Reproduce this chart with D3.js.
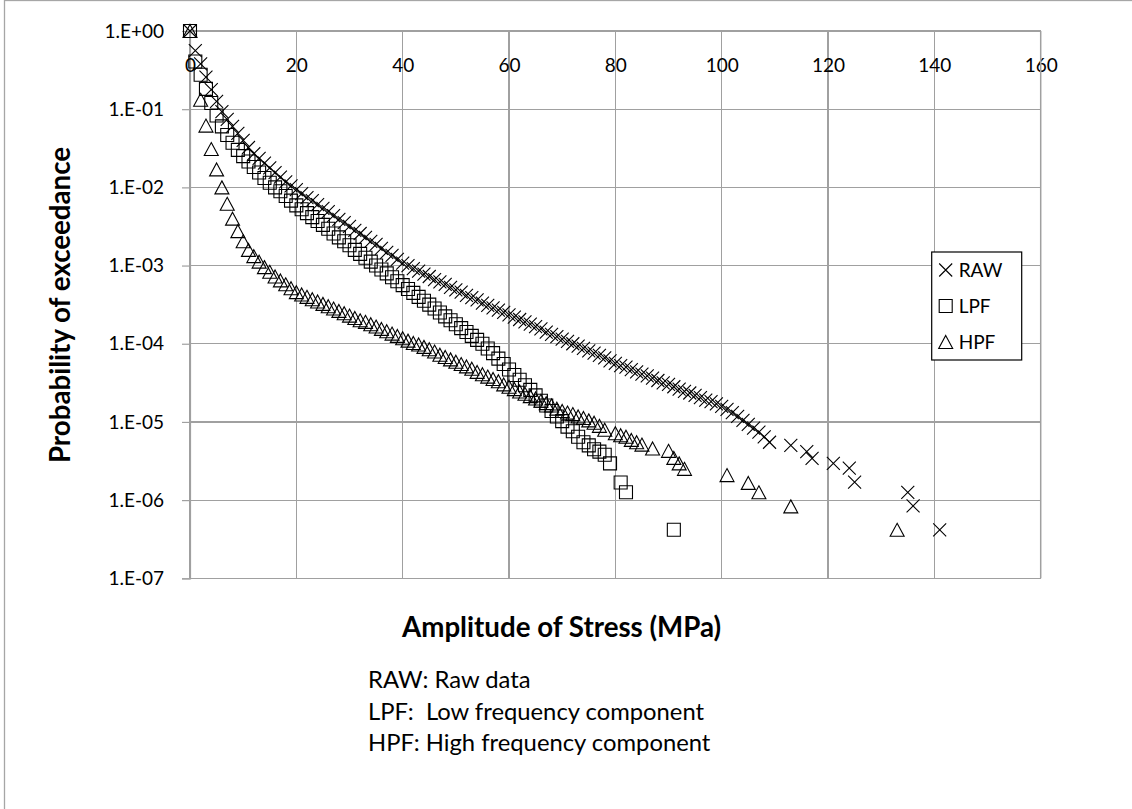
<!DOCTYPE html>
<html>
<head>
<meta charset="utf-8">
<script src="https://cdn.jsdelivr.net/npm/d3@7"></script>
<style>
  html, body { margin: 0; padding: 0; background: #fff; }
  svg { display: block; }
  text { font-family: Lato, "Open Sans", sans-serif; fill: #000; }
</style>
</head>
<body>
<svg id="chart" width="1132" height="809"></svg>
<script>
// ---- Data (probabilities stored as log10 values of the log axis) ----
const xTickValues = [0, 20, 40, 60, 80, 100, 120, 140, 160];
const yTickValues = [1, 1e-1, 1e-2, 1e-3, 1e-4, 1e-5, 1e-6, 1e-7];
const yTickLabels = ["1.E+00", "1.E-01", "1.E-02", "1.E-03", "1.E-04", "1.E-05", "1.E-06", "1.E-07"];
const seriesNames = ["RAW", "LPF", "HPF"];
const footnotes = ["RAW: Raw data", "LPF:  Low frequency component", "HPF: High frequency component"];

const rawX = [0,1,2,3,4,5,6,7,8,9,10,11,12,13,14,15,16,17,18,19,20,
  21,22,23,24,25,26,27,28,29,30,31,32,33,34,35,36,37,38,39,40,
  41,42,43,44,45,46,47,48,49,50,51,52,53,54,55,56,57,58,59,60,
  61,62,63,64,65,66,67,68,69,70,71,72,73,74,75,76,77,78,79,80,
  81,82,83,84,85,86,87,88,89,90,91,92,93,94,95,96,97,98,99,100,
  101,102,103,104,105,106,107,108,109,
  113,116,117,121,124,125,135,136,141];
const rawLogP = [0,-0.25,-0.42,-0.59,-0.75,-0.90,-1.03,-1.13,-1.22,-1.31,-1.40,-1.49,-1.57,-1.63,-1.69,-1.75,-1.81,-1.87,-1.93,-1.98,-2.03,
  -2.08,-2.13,-2.17,-2.22,-2.27,-2.31,-2.36,-2.41,-2.45,-2.50,-2.55,-2.59,-2.64,-2.69,-2.73,-2.78,-2.83,-2.87,-2.92,-2.97,
  -3.00,-3.04,-3.07,-3.11,-3.14,-3.18,-3.21,-3.24,-3.28,-3.31,-3.34,-3.38,-3.41,-3.44,-3.48,-3.51,-3.54,-3.57,-3.60,-3.63,
  -3.66,-3.69,-3.72,-3.75,-3.78,-3.81,-3.85,-3.88,-3.91,-3.94,-3.97,-4.00,-4.03,-4.06,-4.09,-4.12,-4.15,-4.18,-4.22,-4.25,
  -4.28,-4.30,-4.33,-4.36,-4.39,-4.41,-4.44,-4.47,-4.50,-4.52,-4.55,-4.58,-4.61,-4.63,-4.66,-4.69,-4.72,-4.74,-4.77,-4.80,
  -4.84,-4.88,-4.93,-4.98,-5.03,-5.08,-5.13,-5.19,-5.26,
  -5.30,-5.38,-5.465,-5.53,-5.59,-5.77,-5.90,-6.075,-6.38];

const lpfX = [0,1,2,3,4,5,6,7,8,9,10,11,12,13,14,15,16,17,18,19,20,
  21,22,23,24,25,26,27,28,29,30,31,32,33,34,35,
  36,37,38,39,40,41,42,43,44,45,46,47,48,49,50,51,52,53,54,55,
  56,57,58,59,60,61,62,63,64,65,66,67,68,69,70,71,72,73,74,75,76,77,78,79,
  81,82,91];
const lpfLogP = [0,-0.39,-0.56,-0.74,-0.92,-1.08,-1.22,-1.33,-1.43,-1.52,-1.60,-1.67,-1.74,-1.81,-1.88,-1.94,-2.00,-2.05,-2.11,-2.17,-2.23,
  -2.28,-2.33,-2.38,-2.43,-2.48,-2.53,-2.59,-2.64,-2.69,-2.74,-2.80,-2.85,-2.90,-2.95,-3.00,
  -3.05,-3.10,-3.15,-3.20,-3.25,-3.30,-3.35,-3.40,-3.45,-3.50,-3.55,-3.60,-3.65,-3.70,-3.75,-3.80,-3.85,-3.90,-3.95,-4.00,
  -4.06,-4.12,-4.19,-4.26,-4.33,-4.40,-4.46,-4.53,-4.59,-4.66,-4.73,-4.79,-4.86,-4.93,-4.99,-5.06,-5.12,-5.19,-5.26,-5.30,-5.35,-5.38,-5.42,-5.53,
  -5.775,-5.90,-6.38];

const hpfX = [0,2,3,4,5,6,7,8,9,10,11,12,13,14,15,16,17,18,19,20,
  21,22,23,24,25,26,27,28,29,30,31,32,33,34,35,36,37,38,39,40,
  41,42,43,44,45,46,47,48,49,50,51,52,53,54,55,56,57,58,59,60,
  61,62,63,64,65,66,67,68,69,70,71,72,73,74,75,76,77,78,
  80,81,82,83,84,85,87,90,91,92,93,101,105,107,113,133];
const hpfLogP = [0,-0.88,-1.21,-1.51,-1.77,-2.00,-2.21,-2.40,-2.56,-2.69,-2.80,-2.88,-2.95,-3.02,-3.08,-3.14,-3.19,-3.24,-3.29,-3.34,
  -3.37,-3.40,-3.43,-3.46,-3.49,-3.52,-3.55,-3.58,-3.61,-3.64,-3.67,-3.70,-3.72,-3.75,-3.78,-3.81,-3.84,-3.87,-3.90,-3.93,
  -3.96,-3.99,-4.01,-4.04,-4.07,-4.10,-4.14,-4.17,-4.20,-4.23,-4.26,-4.29,-4.32,-4.36,-4.39,-4.42,-4.45,-4.48,-4.52,-4.55,
  -4.58,-4.61,-4.64,-4.67,-4.70,-4.73,-4.76,-4.79,-4.83,-4.86,-4.88,-4.90,-4.93,-4.95,-4.98,-5.01,-5.05,-5.10,
  -5.145,-5.17,-5.19,-5.23,-5.26,-5.29,-5.34,-5.37,-5.46,-5.53,-5.60,-5.68,-5.78,-5.90,-6.08,-6.38];

// ---- Layout ----
const plot = { left: 190, right: 1040.7, top: 31, bottom: 578.3 };
const svg = d3.select("#chart");

// chart area border
svg.append("rect").attr("x", 4.5).attr("y", 0.5).attr("width", 1200).attr("height", 1200)
  .attr("fill", "none").attr("stroke", "#a6a6a6").attr("stroke-width", 1.3);

const x = d3.scaleLinear().domain([0, 160]).range([plot.left, plot.right]);
const y = d3.scaleLog().domain([1e-7, 1]).range([plot.bottom, plot.top]);

// gridlines
const grid = svg.append("g").attr("stroke", "#a0a0a0").attr("stroke-width", 1.2).attr("shape-rendering", "crispEdges");
grid.selectAll("line.v").data(xTickValues).join("line").attr("class", "v")
  .attr("x1", d => x(d)).attr("x2", d => x(d)).attr("y1", plot.top).attr("y2", plot.bottom);
grid.selectAll("line.h").data(yTickValues).join("line").attr("class", "h")
  .attr("x1", plot.left).attr("x2", plot.right).attr("y1", d => y(d)).attr("y2", d => y(d));

// y axis (left) with outside ticks
const yAxis = d3.axisLeft(y).tickValues(yTickValues).tickSize(8).tickPadding(18)
  .tickFormat((d, i) => yTickLabels[i]);
const gy = svg.append("g").attr("transform", `translate(${plot.left},0)`).call(yAxis);
gy.select(".domain").attr("stroke", "#a0a0a0").attr("stroke-width", 1.2);
gy.selectAll(".tick line").attr("stroke", "#a0a0a0").attr("stroke-width", 1.2);
gy.selectAll(".tick text").attr("font-family", "Lato, sans-serif").attr("font-size", 19).attr("fill", "#000");

// x axis labels at top, placed below the top axis line
const xAxis = d3.axisBottom(x).tickValues(xTickValues).tickSize(0).tickPadding(28).tickFormat(d3.format("d"));
const gx = svg.append("g").attr("transform", `translate(0,${plot.top})`).call(xAxis);
gx.select(".domain").remove();
gx.selectAll(".tick text").attr("font-family", "Lato, sans-serif").attr("font-size", 19).attr("fill", "#000");

// plot right border
svg.append("line").attr("x1", plot.right).attr("x2", plot.right).attr("y1", plot.top).attr("y2", plot.bottom)
  .attr("stroke", "#a0a0a0").attr("stroke-width", 1.5);

// marker generators
const markerPath = {
  RAW: "M-6.5,-6.5L6.5,6.5M-6.5,6.5L6.5,-6.5",
  LPF: "M-6.5,-6.5H6.5V6.5H-6.5Z",
  HPF: "M0,-6.5L7,6.5H-7Z"
};
const series = [
  { name: "RAW", xs: rawX, ls: rawLogP },
  { name: "LPF", xs: lpfX, ls: lpfLogP },
  { name: "HPF", xs: hpfX, ls: hpfLogP }
];
series.forEach(s => {
  const pts = s.xs.map((v, i) => ({ x: v, p: Math.pow(10, s.ls[i]) }));
  svg.append("g").selectAll("path").data(pts).join("path")
    .attr("transform", d => `translate(${x(d.x)},${y(d.p)})`)
    .attr("d", markerPath[s.name])
    .attr("fill", "none").attr("stroke", "#000").attr("stroke-width", 1.1);
});

// legend
const lg = svg.append("g");
const lgBox = { x: 931.7, y: 252, w: 90, h: 108 };
lg.append("rect").attr("x", lgBox.x).attr("y", lgBox.y).attr("width", lgBox.w).attr("height", lgBox.h)
  .attr("fill", "#fff").attr("stroke", "#000").attr("stroke-width", 1.2);
seriesNames.forEach((n, i) => {
  const cy = lgBox.y + 18 + i * 36;
  lg.append("path").attr("transform", `translate(${lgBox.x + 14},${cy})`).attr("d", markerPath[n])
    .attr("fill", "none").attr("stroke", "#000").attr("stroke-width", 1.1);
  lg.append("text").attr("x", lgBox.x + 27).attr("y", cy).attr("dy", "0.35em")
    .attr("font-size", 19).text(n);
});

// axis titles
svg.append("text").attr("x", 402).attr("y", 637).attr("font-weight", "bold").attr("font-size", 27.7)
  .text("Amplitude of Stress (MPa)");
svg.append("text").attr("transform", "translate(70,305) rotate(-90)").attr("text-anchor", "middle")
  .attr("font-weight", "bold").attr("font-size", 27.7).text("Probability of exceedance");

// footnote
footnotes.forEach((t, i) => {
  svg.append("text").attr("x", 368).attr("y", 688 + i * 31.7).attr("font-size", 23.8)
    .attr("xml:space", "preserve").style("white-space", "pre").text(t);
});
</script>
</body>
</html>
